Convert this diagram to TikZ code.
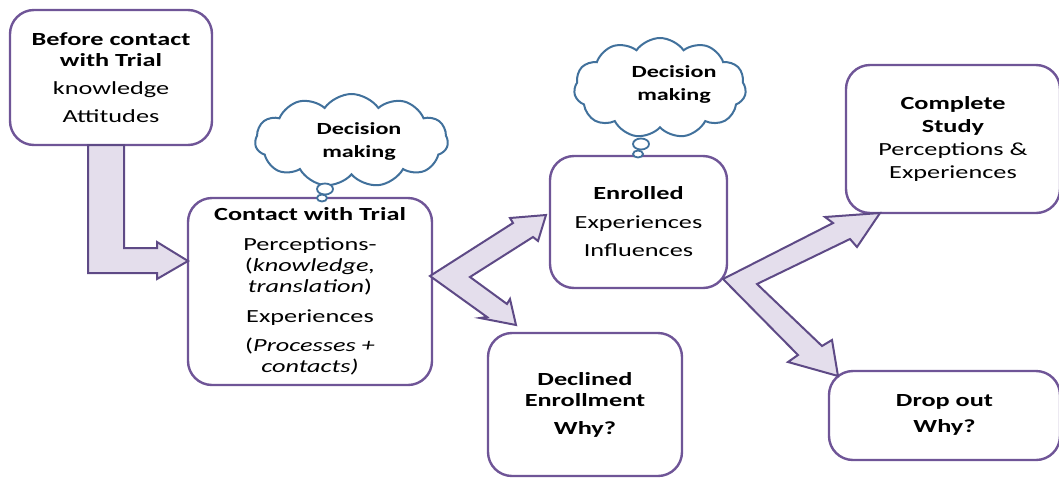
\documentclass[tikz,border=0pt]{standalone}
\usepackage{fontspec}
\setmainfont{Carlito}[FakeStretch=1.42]
\usetikzlibrary{shapes.symbols,shapes.geometric}
\definecolor{boxline}{HTML}{6F5597}
\definecolor{arrfill}{HTML}{E4DEEC}
\definecolor{arrline}{HTML}{5E4A86}
\definecolor{cloudline}{HTML}{41719C}
\begin{document}
\begin{tikzpicture}[x=1pt,y=-1pt,
 stagebox/.style={draw=boxline, line width=2.4pt, fill=white, rounded corners=24pt, align=center, inner sep=0pt, font=\fontsize{18.5}{21}\selectfont},
 blockarrow/.style={draw=arrline, fill=arrfill, line width=2pt, line join=miter},
 thought/.style={cloud, cloud puffs=11, cloud puff arc=110, cloud ignores aspect, draw=cloudline, line width=2pt, fill=white, inner sep=0pt},
 bubble/.style={ellipse, draw=cloudline, line width=1.8pt, fill=white, inner sep=0pt},
 cloudtext/.style={align=center, font=\bfseries\fontsize{17}{23}\selectfont}]
\useasboundingbox (0,0) rectangle (1059,477);

% boxes
\node[stagebox, minimum width=202pt, minimum height=135pt] (before) at (111,77.5)
  {\textbf{Before contact}\\\textbf{with Trial}\\[7pt]knowledge\\[7pt]Attitudes};
\node[stagebox, minimum width=244pt, minimum height=187pt] (contact) at (310,291.5)
  {\textbf{Contact with Trial}\\[9pt]Perceptions-\\(\textit{knowledge,}\\\textit{translation})\\[9pt]Experiences\\[8pt](\textit{Processes +}\\\textit{contacts)}};
\node[stagebox, minimum width=177pt, minimum height=132pt] (enrolled) at (638.5,222)
  {\textbf{Enrolled}\\[8pt]Experiences\\[7pt]Influences};
\node[stagebox, minimum width=214pt, minimum height=148pt] (complete) at (953,139)
  {\textbf{Complete}\\[2pt]\textbf{Study}\\[2pt]Perceptions \&\\[2pt]Experiences};
\node[stagebox, minimum width=231pt, minimum height=89pt] (dropout) at (944.5,415.5)
  {\textbf{Drop out}\\[5pt]\textbf{Why?}\\[-16pt]\mbox{}};
\node[stagebox, minimum width=194pt, minimum height=143pt] (declined) at (585,404.5)
  {\textbf{Declined}\\\textbf{Enrollment}\\[7pt]\textbf{Why?}};

% thought clouds
\node[thought, minimum width=193pt, minimum height=93pt] (cloudA) at (351.5,140.5) {};
\node[cloudtext] (cloudAtext) at (359,141) {Decision\\making};
\node[bubble, minimum width=16pt, minimum height=11pt] (bubA1) at (325,189) {};
\node[bubble, minimum width=10pt, minimum height=7pt] (bubA2) at (322,198) {};

\node[thought, minimum width=172pt, minimum height=100pt] (cloudB) at (660,88) {};
\node[cloudtext] (cloudBtext) at (674,84) {Decision\\making};
\node[bubble, minimum width=16pt, minimum height=11pt] (bubB1) at (641,144) {};
\node[bubble, minimum width=10pt, minimum height=7pt] (bubB2) at (638,154) {};

% block arrows
\draw[blockarrow] (88,145) -- (88,273) -- (157,273) -- (157,279) -- (188,261)
  -- (157,242) -- (157,248) -- (124,248) -- (124,145) -- cycle;
\draw[blockarrow] (430,276) -- (513,223) -- (510,218) -- (546,215) -- (538,241)
  -- (533,237) -- (470,277) -- (507,304) -- (510,299) -- (516,325) -- (480,318)
  -- (487,317) -- cycle;
\draw[blockarrow] (723,279) -- (833,223) -- (825,217) -- (880,213) -- (857,247)
  -- (850,239) -- (757,284) -- (822,346) -- (832,340) -- (838,376) -- (788,362)
  -- (798,355) -- cycle;
\end{tikzpicture}
\end{document}
